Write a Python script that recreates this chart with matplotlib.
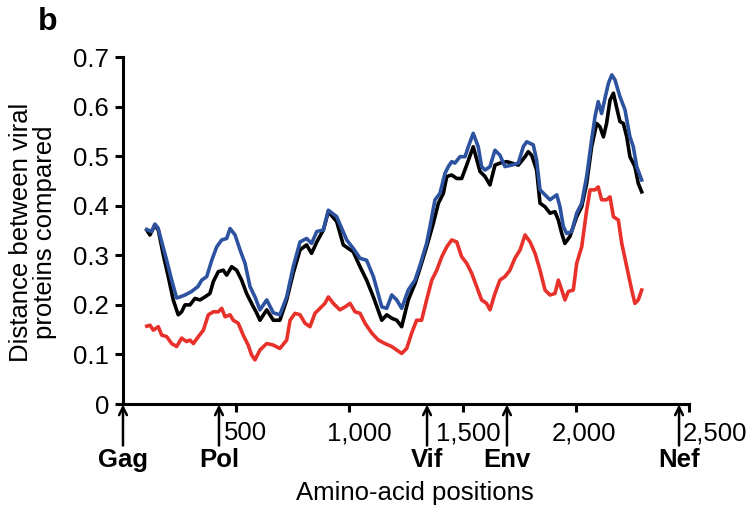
import matplotlib
matplotlib.use("Agg")
import matplotlib.pyplot as plt

plt.rcParams['font.family'] = ['Liberation Sans', 'DejaVu Sans']

# curves (amino-acid position, distance)
blue_x = [105, 127, 141, 155, 177, 193, 215, 237, 252, 274, 303, 331, 348, 370, 392, 414, 436, 458,
          473, 495, 517, 539, 561, 583, 605, 635, 664, 693, 723, 752, 782, 811, 833, 856, 885, 907,
          944, 988, 1017, 1047, 1076, 1106, 1143, 1165, 1187, 1209, 1231, 1260, 1290, 1312, 1341,
          1356, 1378, 1400, 1422, 1437, 1452, 1466, 1489, 1511, 1525, 1547, 1569, 1584, 1599, 1621,
          1643, 1665, 1687, 1717, 1746, 1768, 1783, 1812, 1827, 1842, 1864, 1886, 1916, 1930, 1945,
          1960, 1982, 2004, 2026, 2048, 2070, 2085, 2099, 2114, 2129, 2144, 2159, 2173, 2195, 2217,
          2239, 2254, 2269, 2291]
blue_y = [0.352, 0.348, 0.363, 0.355, 0.317, 0.290, 0.250, 0.214, 0.216, 0.220, 0.227, 0.237, 0.250,
          0.257, 0.290, 0.317, 0.331, 0.334, 0.354, 0.341, 0.311, 0.284, 0.237, 0.216, 0.190, 0.210,
          0.184, 0.180, 0.216, 0.277, 0.327, 0.334, 0.324, 0.348, 0.351, 0.391, 0.378, 0.331, 0.314,
          0.294, 0.290, 0.257, 0.196, 0.193, 0.220, 0.210, 0.193, 0.230, 0.250, 0.280, 0.324, 0.358,
          0.412, 0.425, 0.465, 0.479, 0.489, 0.486, 0.499, 0.499, 0.519, 0.546, 0.519, 0.479, 0.472,
          0.479, 0.512, 0.502, 0.479, 0.482, 0.486, 0.519, 0.529, 0.523, 0.492, 0.432, 0.422, 0.412,
          0.422, 0.398, 0.358, 0.344, 0.348, 0.385, 0.405, 0.459, 0.533, 0.580, 0.610, 0.586, 0.617,
          0.647, 0.664, 0.654, 0.620, 0.594, 0.539, 0.519, 0.479, 0.452]

black_x = [105, 119, 141, 156, 178, 200, 222, 244, 259, 274, 296, 318, 340, 362, 384, 399, 421, 443,
           458, 480, 502, 524, 546, 568, 591, 605, 635, 664, 693, 723, 752, 782, 811, 833, 856, 885,
           907, 944, 973, 1017, 1047, 1076, 1106, 1143, 1165, 1187, 1209, 1231, 1260, 1290, 1312,
           1341, 1371, 1393, 1415, 1430, 1452, 1474, 1496, 1518, 1547, 1577, 1599, 1621, 1643, 1665,
           1695, 1717, 1746, 1776, 1790, 1805, 1827, 1842, 1864, 1886, 1908, 1923, 1938, 1952, 1974,
           2004, 2026, 2048, 2070, 2092, 2107, 2122, 2136, 2151, 2166, 2181, 2195, 2210, 2225, 2239,
           2261, 2276, 2291]
black_y = [0.351, 0.341, 0.361, 0.351, 0.301, 0.257, 0.210, 0.180, 0.186, 0.200, 0.200, 0.213, 0.210,
           0.216, 0.223, 0.247, 0.267, 0.270, 0.260, 0.277, 0.270, 0.250, 0.223, 0.203, 0.183, 0.169,
           0.190, 0.169, 0.169, 0.210, 0.264, 0.311, 0.321, 0.304, 0.327, 0.351, 0.388, 0.368, 0.321,
           0.307, 0.277, 0.250, 0.216, 0.169, 0.180, 0.173, 0.169, 0.156, 0.210, 0.243, 0.274, 0.317,
           0.365, 0.405, 0.425, 0.459, 0.462, 0.455, 0.455, 0.482, 0.519, 0.469, 0.459, 0.442, 0.482,
           0.486, 0.489, 0.486, 0.482, 0.499, 0.509, 0.502, 0.472, 0.405, 0.398, 0.385, 0.388, 0.371,
           0.344, 0.324, 0.338, 0.378, 0.398, 0.445, 0.519, 0.566, 0.559, 0.539, 0.566, 0.613, 0.627,
           0.597, 0.570, 0.566, 0.539, 0.499, 0.479, 0.445, 0.428]

red_x = [105, 119, 134, 156, 171, 193, 215, 237, 259, 281, 296, 311, 333, 355, 377, 399, 421, 436,
         451, 473, 487, 509, 531, 553, 568, 583, 605, 635, 664, 693, 723, 738, 760, 782, 804, 826,
         848, 870, 892, 907, 929, 958, 981, 1003, 1025, 1047, 1069, 1099, 1128, 1157, 1187, 1209,
         1231, 1253, 1275, 1297, 1319, 1341, 1364, 1386, 1408, 1430, 1452, 1474, 1496, 1518, 1540,
         1562, 1584, 1606, 1621, 1643, 1665, 1687, 1709, 1731, 1754, 1776, 1798, 1820, 1842, 1864,
         1886, 1908, 1923, 1938, 1952, 1967, 1989, 2004, 2026, 2048, 2063, 2085, 2099, 2114, 2136,
         2151, 2166, 2188, 2203, 2225, 2247, 2261, 2276, 2291]
red_y = [0.157, 0.159, 0.149, 0.156, 0.139, 0.136, 0.122, 0.116, 0.133, 0.126, 0.129, 0.122, 0.136,
         0.149, 0.180, 0.186, 0.186, 0.193, 0.176, 0.180, 0.169, 0.163, 0.139, 0.119, 0.099, 0.089,
         0.109, 0.122, 0.119, 0.112, 0.129, 0.169, 0.183, 0.180, 0.163, 0.156, 0.183, 0.193, 0.203,
         0.216, 0.203, 0.190, 0.196, 0.203, 0.186, 0.183, 0.163, 0.143, 0.129, 0.122, 0.116, 0.109,
         0.102, 0.112, 0.143, 0.169, 0.169, 0.210, 0.250, 0.270, 0.297, 0.317, 0.331, 0.327, 0.297,
         0.284, 0.264, 0.237, 0.210, 0.203, 0.190, 0.223, 0.250, 0.257, 0.270, 0.294, 0.311, 0.341,
         0.327, 0.304, 0.270, 0.230, 0.220, 0.223, 0.250, 0.230, 0.210, 0.227, 0.230, 0.284, 0.317,
         0.391, 0.432, 0.432, 0.438, 0.412, 0.412, 0.418, 0.378, 0.371, 0.324, 0.277, 0.230, 0.203,
         0.210, 0.230]

x_ticks = [500, 1000, 1500, 2000, 2500]
x_tick_labels = ['500', '1,000', '1,500', '2,000', '2,500']
y_ticks = [0, 0.1, 0.2, 0.3, 0.4, 0.5, 0.6, 0.7]
y_tick_labels = ['0', '0.1', '0.2', '0.3', '0.4', '0.5', '0.6', '0.7']
genes = ['Gag', 'Pol', 'Vif', 'Env', 'Nef']
gene_starts = [0, 424, 1343, 1696, 2456]

# horizontal nudges (points) for the x tick labels so they clear the arrows
label_nudge = [7, 7, 4, 6, 19]

fs = 18.5
fig = plt.figure(figsize=(7.54, 5.12), dpi=100)
ax = fig.add_axes([0.1631, 0.2109, 0.7507, 0.6777])

ax.plot(red_x, red_y, color='#e8312a', lw=2.6, solid_joinstyle='round')
ax.plot(black_x, black_y, color='black', lw=2.6, solid_joinstyle='round')
ax.plot(blue_x, blue_y, color='#2d52a0', lw=2.6, solid_joinstyle='round')

ax.set_xlim(0, 2500)
ax.set_ylim(0, 0.7)
for s in ['top', 'right']:
    ax.spines[s].set_visible(False)
for s in ['left', 'bottom']:
    ax.spines[s].set_linewidth(2.2)

ax.set_yticks(y_ticks)
ax.set_yticklabels(y_tick_labels, fontsize=fs)
ax.set_xticks(x_ticks)
ax.set_xticklabels([''] * len(x_ticks))
ax.tick_params(axis='both', width=2.2, length=6, direction='out')
ax.tick_params(axis='y', pad=4)

for xt, lab, dx in zip(x_ticks, x_tick_labels, label_nudge):
    ax.annotate(lab, xy=(xt, 0), xytext=(dx, -21), textcoords='offset points',
                ha='center', va='center', fontsize=fs, annotation_clip=False)

for g, pos in zip(genes, gene_starts):
    ax.annotate('', xy=(pos, -0.001), xytext=(0, -29.5), textcoords='offset points',
                arrowprops=dict(arrowstyle='->', lw=1.8, color='black',
                                shrinkA=0, shrinkB=0, mutation_scale=14),
                annotation_clip=False)
    ax.annotate(g, xy=(pos, 0), xytext=(0, -40), textcoords='offset points',
                ha='center', va='center', fontsize=fs, fontweight='bold',
                annotation_clip=False)

fig.text(415 / 754, 1 - 493 / 512, 'Amino-acid positions', ha='center', va='center', fontsize=fs)
fig.text(33 / 754, 1 - 232 / 512, 'Distance between viral\nproteins compared', ha='center',
         va='center', rotation=90, fontsize=fs, linespacing=1.0)
fig.text(48 / 754, 1 - 22 / 512, 'b', ha='center', va='center', fontsize=23, fontweight='bold')

fig.savefig('out.png', dpi=100)
